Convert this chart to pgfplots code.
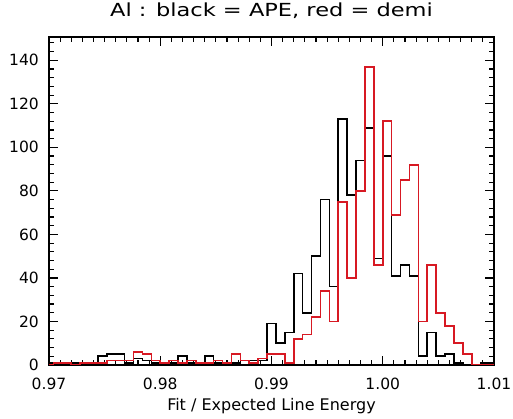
\documentclass[border=0pt]{standalone}
\usepackage{pgfplots}
\pgfplotsset{compat=1.18}
\usepackage{pgfplotstable}
\usepackage{graphicx}
\usepackage{fontspec}
\setmainfont{DejaVu Sans}

\definecolor{idlred}{RGB}{215,25,35}

% Histogram of fitted / expected line energy for Al, bin width 0.0008,
% values are counts at the bin centres
\pgfplotstableread{
x       black red
0.9700  1     0
0.9708  1     1
0.9716  0     1
0.9724  1     0
0.9732  1     1
0.9740  0     1
0.9748  4     1
0.9756  5     2
0.9764  5     2
0.9772  1     2
0.9780  3     6
0.9788  2     5
0.9796  1     2
0.9804  1     1
0.9812  1     2
0.9820  4     1
0.9828  1     2
0.9836  1     1
0.9844  4     1
0.9852  1     2
0.9860  1     1
0.9868  1     5
0.9876  2     2
0.9884  2     1
0.9892  2     3
0.9900  19    5
0.9908  10    5
0.9916  15    1
0.9924  42    12
0.9932  24    14
0.9940  50    22
0.9948  76    34
0.9956  36    20
0.9964  113   75
0.9972  78    40
0.9980  94    80
0.9988  109   137
0.9996  49    46
1.0004  96    112
1.0012  41    69
1.0020  46    85
1.0028  41    92
1.0036  4     20
1.0044  15    46
1.0052  4     24
1.0060  5     18
1.0068  1     10
1.0076  0     5
1.0084  0     0
1.0092  1     0
1.0100  1     0
}\histdata

\begin{document}
\begin{tikzpicture}
\path[use as bounding box] (0,0) rectangle (513bp,419bp);
% x axis runs in units of 0.001 measured from 0.97; y range is 1.1 x peak
% (the first tick of each list lies below the axis range, hence the empty label)
\begin{axis}[
  at={(49bp,54bp)}, anchor=south west,
  scale only axis, width=445bp, height=328bp,
  enlarge x limits=false,
  enlarge y limits={upper, value=0.1},
  xtick distance=10, ytick distance=20,
  xticklabels={,0.97,0.98,0.99,1.00,1.01},
  yticklabels={,0,20,40,60,80,100,120,140},
  minor x tick num=9, minor y tick num=4,
  tick align=inside,
  major tick length=9bp, minor tick length=5bp,
  axis line style={line width=1.6bp},
  tick style={black, line width=1.2bp},
  tick label style={font=\fontsize{15.5bp}{15.5bp}\selectfont},
  xticklabel style={anchor=base, yshift=-24bp},
  yticklabel style={anchor=east, inner sep=0pt, xshift=-10bp},
  title={\scalebox{1.25}[1]{Al : black = APE, red = demi}},
  title style={at={(0.5,1)}, anchor=base, yshift=15bp,
    font=\fontsize{18bp}{18bp}\selectfont},
  xlabel={Fit / Expected Line Energy},
  xlabel style={at={(axis description cs:0.5,0)}, anchor=base, yshift=-45bp,
    font=\fontsize{16bp}{16bp}\selectfont},
]
\addplot[const plot mark mid, black, line width=1.6bp, no marks]
  table[x expr={(\thisrow{x}-0.97)*1000}, y=black] {\histdata};
\addplot[const plot mark mid, idlred, line width=1.6bp, no marks]
  table[x expr={(\thisrow{x}-0.97)*1000}, y=red] {\histdata};
\end{axis}
\end{tikzpicture}
\end{document}
